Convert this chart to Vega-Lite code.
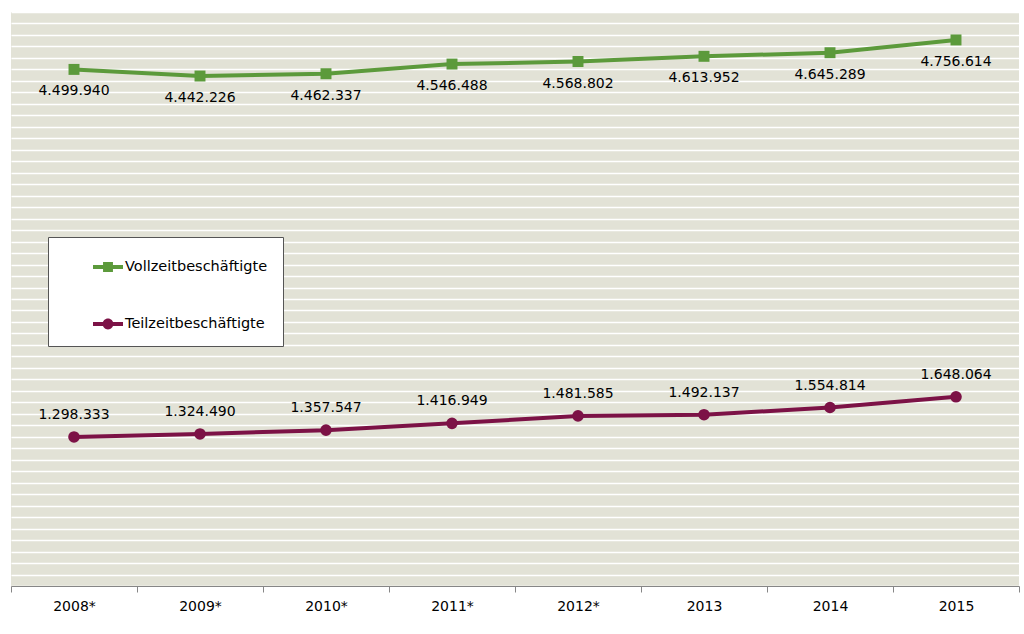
{
  "$schema": "https://vega.github.io/schema/vega-lite/v6.json",
  "width": 1008,
  "height": 574,
  "autosize": {"type": "none"},
  "padding": {"left": 11, "top": 12, "right": 5, "bottom": 48},
  "background": "white",
  "config": {
    "locale": {"number": {"decimal": ",", "thousands": ".", "grouping": [3], "currency": ["", " €"]}},
    "view": {"fill": "#E2E2D6", "stroke": null},
    "font": "DejaVu Sans"
  },
  "data": {
    "values": [
      {"jahr": "2008*", "gruppe": "Vollzeitbeschäftigte", "wert": 4499940},
      {"jahr": "2009*", "gruppe": "Vollzeitbeschäftigte", "wert": 4442226},
      {"jahr": "2010*", "gruppe": "Vollzeitbeschäftigte", "wert": 4462337},
      {"jahr": "2011*", "gruppe": "Vollzeitbeschäftigte", "wert": 4546488},
      {"jahr": "2012*", "gruppe": "Vollzeitbeschäftigte", "wert": 4568802},
      {"jahr": "2013", "gruppe": "Vollzeitbeschäftigte", "wert": 4613952},
      {"jahr": "2014", "gruppe": "Vollzeitbeschäftigte", "wert": 4645289},
      {"jahr": "2015", "gruppe": "Vollzeitbeschäftigte", "wert": 4756614},
      {"jahr": "2008*", "gruppe": "Teilzeitbeschäftigte", "wert": 1298333},
      {"jahr": "2009*", "gruppe": "Teilzeitbeschäftigte", "wert": 1324490},
      {"jahr": "2010*", "gruppe": "Teilzeitbeschäftigte", "wert": 1357547},
      {"jahr": "2011*", "gruppe": "Teilzeitbeschäftigte", "wert": 1416949},
      {"jahr": "2012*", "gruppe": "Teilzeitbeschäftigte", "wert": 1481585},
      {"jahr": "2013", "gruppe": "Teilzeitbeschäftigte", "wert": 1492137},
      {"jahr": "2014", "gruppe": "Teilzeitbeschäftigte", "wert": 1554814},
      {"jahr": "2015", "gruppe": "Teilzeitbeschäftigte", "wert": 1648064}
    ]
  },
  "encoding": {
    "x": {
      "field": "jahr", "type": "ordinal", "sort": null, "bandPosition": 0.5,
      "scale": {"type": "band", "paddingInner": 0, "paddingOuter": 0},
      "axis": {
        "title": null, "labelAngle": 0, "tickBand": "extent",
        "domainColor": "#868686", "tickColor": "#868686", "tickSize": 6,
        "labelFontSize": 14, "labelColor": "black", "labelPadding": 7, "labelFont": "DejaVu Sans", "grid": false
      }
    },
    "y": {
      "field": "wert", "type": "quantitative",
      "scale": {"domain": [0, 5000000], "nice": false},
      "axis": {
        "title": null, "labels": false, "ticks": false, "domain": false,
        "grid": true, "gridColor": "white", "gridWidth": 1.5, "tickCount": 50
      }
    }
  },
  "layer": [
    {
      "mark": {"type": "line", "strokeWidth": 4},
      "encoding": {
        "color": {
          "field": "gruppe", "type": "nominal",
          "scale": {"domain": ["Vollzeitbeschäftigte", "Teilzeitbeschäftigte"], "range": ["#5C9A3B", "#7C1246"]},
          "legend": {
            "orient": "none", "legendX": 37, "legendY": 225, "title": null,
            "fillColor": "white", "strokeColor": "#555555", "padding": 15,
            "symbolOffset": 30, "rowPadding": 35, "labelFontSize": 14.5, "labelFont": "DejaVu Sans",
            "labelColor": "black", "symbolSize": 900, "labelOffset": 2, "symbolStrokeWidth": 0,
            "labelExpr": "datum.label + '\u00a0\u00a0\u00a0'",
            "encode": {
              "symbols": {
                "update": {
                  "shape": {"signal": "datum.value === 'Vollzeitbeschäftigte' ? 'M-1,-0.13H1V0.13H-1Z M-0.33,-0.33H0.33V0.33H-0.33Z' : 'M-1,-0.13H1V0.13H-1Z M-0.36,0A0.36,0.36 0 1,1 0.36,0A0.36,0.36 0 1,1 -0.36,0Z'"},
                  "fill": {"scale": "color", "field": "value"},
                  "fillOpacity": {"value": 1},
                  "strokeWidth": {"value": 0}
                }
              }
            }
          }
        }
      }
    },
    {
      "transform": [{"filter": "datum.gruppe === 'Vollzeitbeschäftigte'"}],
      "mark": {"type": "point", "shape": "square", "filled": true, "opacity": 1, "size": 120, "color": "#5C9A3B"}
    },
    {
      "transform": [{"filter": "datum.gruppe === 'Teilzeitbeschäftigte'"}],
      "mark": {"type": "point", "shape": "circle", "filled": true, "opacity": 1, "size": 135, "color": "#7C1246"}
    },
    {
      "transform": [{"filter": "datum.gruppe === 'Vollzeitbeschäftigte'"}],
      "mark": {"type": "text", "dy": 22, "fontSize": 14, "font": "DejaVu Sans", "color": "black", "baseline": "middle"},
      "encoding": {"text": {"field": "wert", "type": "quantitative", "format": ",d"}}
    },
    {
      "transform": [{"filter": "datum.gruppe === 'Teilzeitbeschäftigte'"}],
      "mark": {"type": "text", "dy": -22, "fontSize": 14, "font": "DejaVu Sans", "color": "black", "baseline": "middle"},
      "encoding": {"text": {"field": "wert", "type": "quantitative", "format": ",d"}}
    }
  ]
}
